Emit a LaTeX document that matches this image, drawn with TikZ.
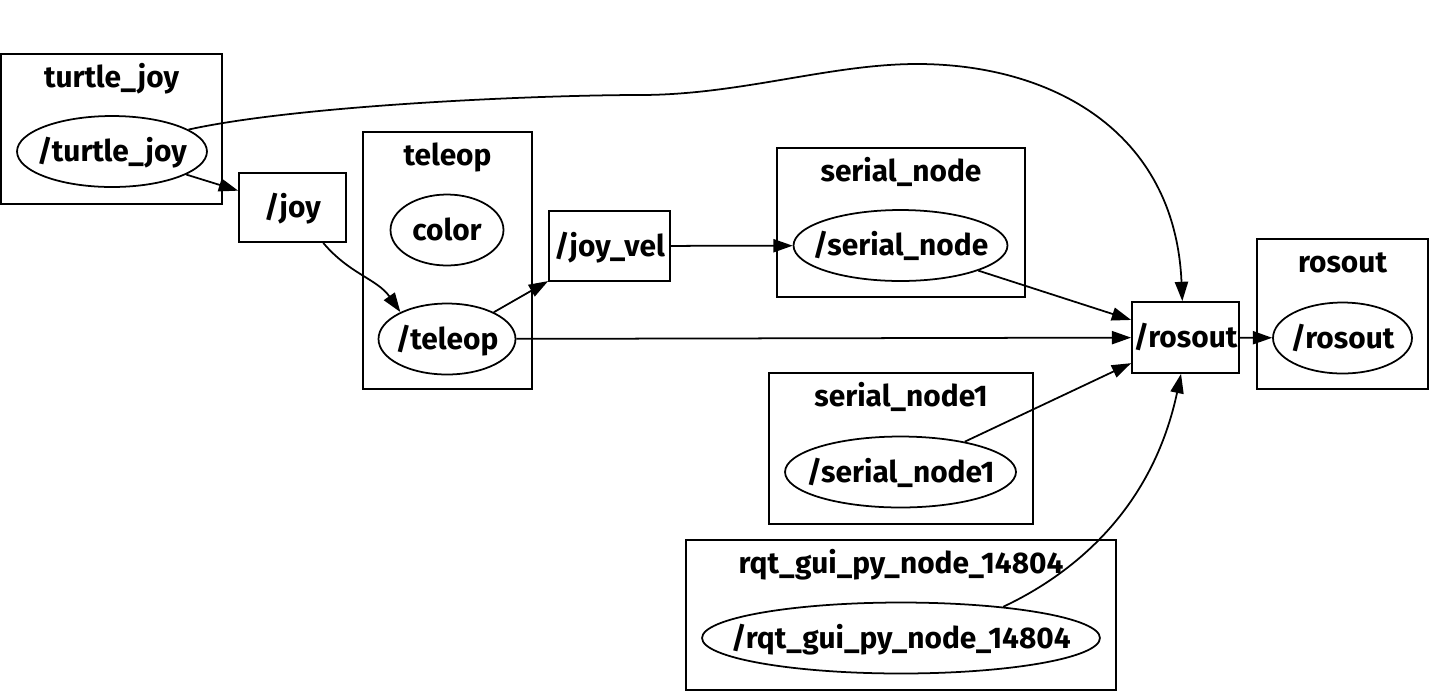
\documentclass[tikz,border=0pt]{standalone}
\usepackage{fontspec}
\setmainfont{Fira Sans}
\usepackage{tikz}
\usetikzlibrary{arrows.meta,positioning,shapes.geometric}

\tikzset{
	cluster/.style={draw,line width=1pt,inner sep=0pt},
	topic/.style={draw,line width=1pt,inner sep=0pt},
	rosnode/.style={draw,ellipse,line width=1pt,inner sep=0pt,minimum height=1.42cm},
	clabel/.style={anchor=base,inner sep=0pt},
	edge/.style={-{Triangle[length=11pt,width=7.5pt]},line width=1pt},
}

\begin{document}
\begin{tikzpicture}[x=0.02cm,y=-0.02cm,
	font=\fontsize{17}{20}\selectfont\bfseries,
	every node/.append style={text height=0.46cm,text depth=0.06cm}]
		
		\useasboundingbox (0,0) rectangle (1430,691);
		
		% groups
		\node[cluster,minimum width=4.42cm,minimum height=3cm]
		(tjbox) at (111.5,129) {};
		\node[clabel] (tjlab) at ([yshift=-0.68cm]tjbox.north)
		{turtle\_joy};
		
		\node[cluster,minimum width=3.38cm,minimum height=5.14cm]
		(telbox) at (447.5,260.5) {};
		\node[clabel] (tellab) at ([yshift=-0.68cm]telbox.north)
		{teleop};
		
		\node[cluster,minimum width=4.96cm,minimum height=2.98cm]
		(snbox) at (901,222.5) {};
		\node[clabel] (snlab) at ([yshift=-0.68cm]snbox.north)
		{serial\_node};
		
		\node[cluster,minimum width=3.42cm,minimum height=3cm]
		(robox) at (1342.5,314) {};
		\node[clabel] (rolab) at ([yshift=-0.68cm]robox.north)
		{rosout};
		
		\node[cluster,minimum width=5.28cm,minimum height=3.02cm]
		(snonebox) at (901,448.5) {};
		\node[clabel] (snonelab) at ([yshift=-0.68cm]snonebox.north)
		{serial\_node1};
		
		\node[cluster,minimum width=8.6cm,minimum height=3cm]
		(rqtbox) at (901,615) {};
		\node[clabel] (rqtlab) at ([yshift=-0.68cm]rqtbox.north)
		{rqt\_gui\_py\_node\_14804};
		
		% nodes
		\node[rosnode,minimum width=3.8cm,label=center:{/turtle\_joy}]
		(tj) at (112,151.5) {};
		\node[rosnode,minimum width=2.26cm,label=center:{color}]
		(color) at (447,230) {};
		\node[rosnode,minimum width=2.74cm,label=center:{/teleop}]
		(tel) at (447,339) {};
		\node[rosnode,minimum width=4.28cm,label=center:{/serial\_node}]
		(sn) at (900.5,245.5) {};
		\node[rosnode,minimum width=2.78cm,label=center:{/rosout}]
		(roN) at (1342.5,338) {};
		\node[rosnode,minimum width=4.62cm,label=center:{/serial\_node1}]
		(snone) at (900.5,472) {};
		\node[rosnode,minimum width=7.96cm,label=center:{/rqt\_gui\_py\_node\_14804}]
		(rqt) at (901,638) {};
		
		% topics
		\node[topic,minimum width=2.14cm,minimum height=1.38cm]
		(joy) at (292.5,207.5) {/joy};
		\node[topic,minimum width=2.42cm,minimum height=1.4cm]
		(joyvel) at (609.5,246) {/joy\_vel};
		\node[topic,minimum width=2.14cm,minimum height=1.42cm]
		(ro) at (1185.5,337.5) {/rosout};
		
		% edges
		\draw[edge] (tj) -- (joy);
		\draw[edge] (tj.16)
		.. controls (300,105) and (540,95) .. (640,95)
		.. controls (740,95) and (830,64) .. (917,64)
		.. controls (1050,64) and (1175,130) .. (ro.95);
		\draw[edge] (joy.-49) to[out=-50,in=125] (tel.150);
		\draw[edge] (tel) -- (joyvel);
		\draw[edge] (tel) -- (ro);
		\draw[edge] (joyvel) -- (sn);
		\draw[edge] (sn) -- (ro);
		\draw[edge] (snone) -- (ro);
		\draw[edge] (rqt.17)
		.. controls (1060,580) and (1150,520) .. (ro.-97);
		\draw[edge] (ro) -- (roN);
		
	\end{tikzpicture}
\end{document}
